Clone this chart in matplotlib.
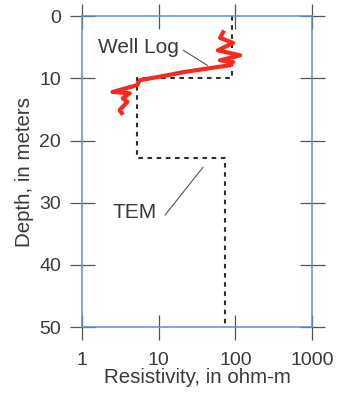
import matplotlib
matplotlib.use('Agg')
import matplotlib.pyplot as plt

# --- data ---
# TEM layered model (stepped resistivity vs depth)
tem_res = [90, 90, 5.2, 5.2, 73, 73]
tem_depth = [0, 10, 10, 22.8, 22.8, 50]

# well log (resistivity vs depth)
log_res = [69, 63, 93, 59, 115, 63, 93, 85, 57, 21, 13, 5.7, 5.2, 2.5, 4.2, 3.4, 3.9, 3.1, 3.3]
log_depth = [2.6, 3.5, 4.3, 5.5, 6.3, 7.1, 7.4, 7.9, 8.2, 9.0, 9.5, 10.3, 11.1, 12.2, 12.4, 13.2, 13.8, 15.1, 15.6]

x_ticks = [1, 10, 100, 1000]
x_labels = ['1', '10', '100', '1000']
y_ticks = [0, 10, 20, 30, 40, 50]

plt.rcParams['font.family'] = ['Liberation Sans', 'DejaVu Sans']
txt = '#3a3a3a'

fig = plt.figure(figsize=(3.43, 3.94), dpi=100)
ax = fig.add_axes([0.239, 0.170, 0.671, 0.789])

ax.plot(tem_res, tem_depth, color='#2e2e2e', linestyle=(0, (2.2, 2.2)), linewidth=1.5)
ax.plot(log_res, log_depth, color='#f52a1c', linewidth=3, solid_joinstyle='round')

ax.set_xscale('log')
ax.set_xlim(1, 1000)
ax.set_ylim(50, 0)
ax.set_xticks(x_ticks)
ax.set_xticklabels(x_labels)
ax.minorticks_off()
ax.set_yticks(y_ticks)

ax.tick_params(direction='inout', length=18, width=0.9, color='#555555',
               top=True, right=True, labelsize=14, labelcolor=txt)
ax.tick_params(axis='x', pad=9)
ax.tick_params(axis='y', pad=6)
for s in ax.spines.values():
    s.set_color('#5d8fd0')
    s.set_linewidth(1.1)

ax.set_xlabel('Resistivity, in ohm-m', fontsize=14.8, color=txt, labelpad=-1)
ax.set_ylabel('Depth, in meters', fontsize=14.8, color=txt, labelpad=4)

# labels with leader lines
ax.text(5.4, 5.1, 'Well Log', fontsize=15, color=txt, ha='center', va='center')
ax.plot([21, 43], [5.5, 7.9], color='#555555', linewidth=0.8)
ax.text(4.9, 31.6, 'TEM', fontsize=15, color=txt, ha='center', va='center')
ax.plot([12.1, 37.8], [32.0, 24.3], color='#555555', linewidth=0.8)

fig.savefig('out.png', dpi=100)
